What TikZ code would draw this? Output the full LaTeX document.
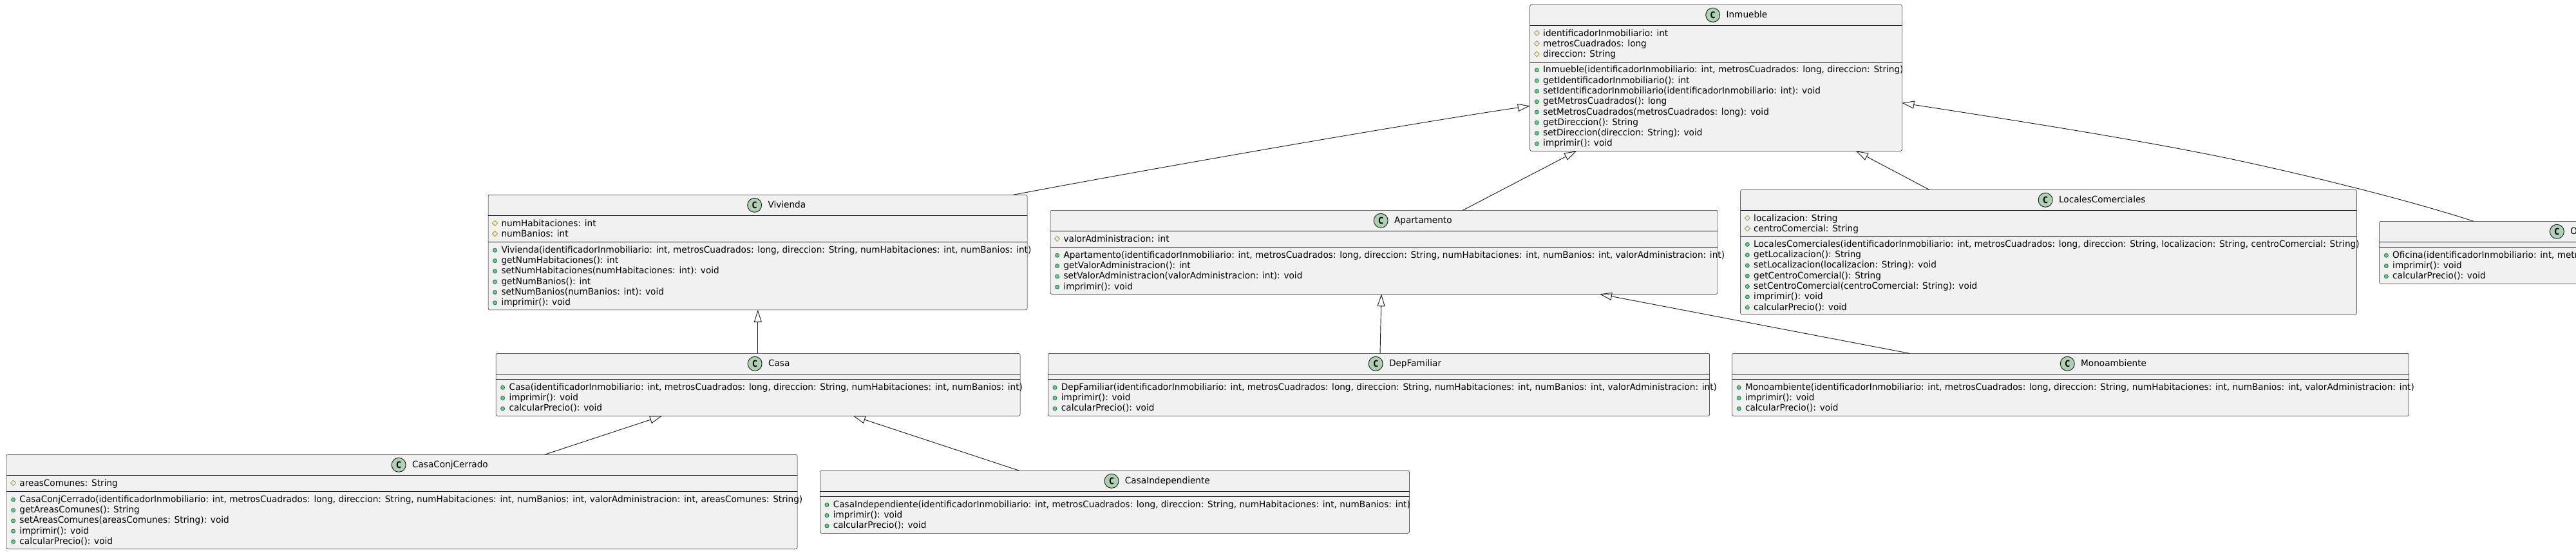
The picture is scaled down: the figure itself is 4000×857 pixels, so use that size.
\documentclass[tikz,border=0pt]{standalone}
\usepackage{fontspec}
\setmainfont[FakeStretch=0.973]{DejaVu Sans}
\newfontfamily\spotfont{DejaVu Sans Mono}
\usetikzlibrary{arrows.meta}
\definecolor{ink}{HTML}{181818}
\definecolor{boxfill}{HTML}{F1F1F1}
\definecolor{spotfill}{HTML}{ADD1B2}
\definecolor{protcol}{HTML}{B38D22}
\definecolor{pubfill}{HTML}{84BE84}
\definecolor{pubcol}{HTML}{038048}
\tikzset{
  umlbox/.style={draw=ink,line width=.5pt,fill=boxfill,rounded corners=2.5pt,anchor=north west,inner sep=0pt,outer sep=0pt},
  umlsep/.style={draw=ink,line width=.5pt},
  umlspot/.style={circle,draw=ink,line width=.9pt,fill=spotfill,minimum size=22pt,inner sep=0pt,font=\spotfont\bfseries\fontsize{14}{14}\selectfont},
  umltitle/.style={anchor=base west,inner sep=0pt,font=\fontsize{14}{16.3}\selectfont,text=black},
  umlrow/.style={anchor=base west,inner sep=0pt,font=\fontsize{14}{16.3}\selectfont,text=black},
  protmark/.style={draw=protcol,line width=.8pt},
  pubmark/.style={draw=pubcol,fill=pubfill,line width=.8pt},
  extends/.style={draw=ink,line width=.9pt,-{Triangle[open,length=19pt,width=12pt]}},
}
\newsavebox\titlebox
\newcount\rowidx
% name, left, top, right, bottom, header line, separator line, title
\newcommand\classbox[8]{%
  \pgfmathsetmacro\bw{#4-#2}\pgfmathsetmacro\bh{#5-#3}%
  \node[umlbox,minimum width=\bw pt,minimum height=\bh pt] (#1) at (#2,#3) {};
  \draw[umlsep] (#2,#6) -- (#4,#6);
  \draw[umlsep] (#2,#7) -- (#4,#7);
  \sbox\titlebox{\fontsize{14}{16.3}\selectfont #8}%
  \pgfmathsetmacro\xt{(#2+#4)/2-0.5*(\the\wd\titlebox+31.7)+31.7}%
  \pgfmathsetmacro\xi{\xt-20.7}\pgfmathsetmacro\yi{#3+16}\pgfmathsetmacro\yt{#3+20.5}%
  \node[umlspot] (#1spot) at (\xi,\yi) {C};
  \node[umltitle] (#1title) at (\xt,\yt) {#8};
  \def\rowl{#2}%
  \pgfmathsetmacro\rowy{#6+16.7}%
  \def\methy{#7}%
}
\newcommand\A[1]{%
  \global\advance\rowidx by 1
  \pgfmathsetmacro\ix{\rowl+10.6}\pgfmathsetmacro\tx{\rowl+20.3}\pgfmathsetmacro\iy{\rowy-4.7}%
  \draw[protmark] (\ix-4,\iy) -- (\ix,\iy-4) -- (\ix+4,\iy) -- (\ix,\iy+4) -- cycle;
  \node[umlrow] (row\the\rowidx) at (\tx,\rowy) {#1};
  \pgfmathsetmacro\rowy{\rowy+16.3}%
}
\newcommand\Mstart{\pgfmathsetmacro\rowy{\methy+17}}
\newcommand\M[1]{%
  \global\advance\rowidx by 1
  \pgfmathsetmacro\ix{\rowl+10.6}\pgfmathsetmacro\tx{\rowl+20.3}\pgfmathsetmacro\iy{\rowy-4}%
  \draw[pubmark] (\ix,\iy) circle (3);
  \node[umlrow] (row\the\rowidx) at (\tx,\rowy) {#1};
  \pgfmathsetmacro\rowy{\rowy+16.3}%
}
\begin{document}
\begin{tikzpicture}[x=1pt,y=-1pt]
\useasboundingbox (0,0) rectangle (4000,857);
\fill[white] (0,0) rectangle (4000,857);
\clip (0,0) rectangle (4000,857);

\classbox{Inmueble}{2375.7}{7.3}{2953.3}{234.3}{39.3}{95.8}{Inmueble}
\A{identificadorInmobiliario: int}
\A{metrosCuadrados: long}
\A{direccion: String}
\Mstart
\M{Inmueble(identificadorInmobiliario: int, metrosCuadrados: long, direccion: String)}
\M{getIdentificadorInmobiliario(): int}
\M{setIdentificadorInmobiliario(identificadorInmobiliario: int): void}
\M{getMetrosCuadrados(): long}
\M{setMetrosCuadrados(metrosCuadrados: long): void}
\M{getDireccion(): String}
\M{setDireccion(direccion: String): void}
\M{imprimir(): void}

\classbox{Vivienda}{758}{302.3}{1595}{480.8}{334.3}{375.3}{Vivienda}
\A{numHabitaciones: int}
\A{numBanios: int}
\Mstart
\M{Vivienda(identificadorInmobiliario: int, metrosCuadrados: long, direccion: String, numHabitaciones: int, numBanios: int)}
\M{getNumHabitaciones(): int}
\M{setNumHabitaciones(numHabitaciones: int): void}
\M{getNumBanios(): int}
\M{setNumBanios(numBanios: int): void}
\M{imprimir(): void}

\classbox{Casa}{770}{548.3}{1584}{645.3}{580.3}{588.3}{Casa}
\Mstart
\M{Casa(identificadorInmobiliario: int, metrosCuadrados: long, direccion: String, numHabitaciones: int, numBanios: int)}
\M{imprimir(): void}
\M{calcularPrecio(): void}

\classbox{CasaConjCerrado}{10}{705.3}{1238}{851.8}{737.3}{762.3}{CasaConjCerrado}
\A{areasComunes: String}
\Mstart
\M{CasaConjCerrado(identificadorInmobiliario: int, metrosCuadrados: long, direccion: String, numHabitaciones: int, numBanios: int, valorAdministracion: int, areasComunes: String)}
\M{getAreasComunes(): String}
\M{setAreasComunes(areasComunes: String): void}
\M{imprimir(): void}
\M{calcularPrecio(): void}

\classbox{CasaIndependiente}{1273.3}{730.3}{2188.5}{827.3}{762.3}{770.3}{CasaIndependiente}
\Mstart
\M{CasaIndependiente(identificadorInmobiliario: int, metrosCuadrados: long, direccion: String, numHabitaciones: int, numBanios: int)}
\M{imprimir(): void}
\M{calcularPrecio(): void}

\classbox{Apartamento}{1631}{326.3}{2667}{456.3}{358.3}{383.3}{Apartamento}
\A{valorAdministracion: int}
\Mstart
\M{Apartamento(identificadorInmobiliario: int, metrosCuadrados: long, direccion: String, numHabitaciones: int, numBanios: int, valorAdministracion: int)}
\M{getValorAdministracion(): int}
\M{setValorAdministracion(valorAdministracion: int): void}
\M{imprimir(): void}

\classbox{DepFamiliar}{1627.4}{548.3}{2654.7}{645.3}{580.3}{588.3}{DepFamiliar}
\Mstart
\M{DepFamiliar(identificadorInmobiliario: int, metrosCuadrados: long, direccion: String, numHabitaciones: int, numBanios: int, valorAdministracion: int)}
\M{imprimir(): void}
\M{calcularPrecio(): void}

\classbox{Monoambiente}{2689.5}{548.3}{3740.7}{645.3}{580.3}{588.3}{Monoambiente}
\Mstart
\M{Monoambiente(identificadorInmobiliario: int, metrosCuadrados: long, direccion: String, numHabitaciones: int, numBanios: int, valorAdministracion: int)}
\M{imprimir(): void}
\M{calcularPrecio(): void}

\classbox{LocalesComerciales}{2702.7}{294.3}{3659.3}{488.3}{326.3}{366.3}{LocalesComerciales}
\A{localizacion: String}
\A{centroComercial: String}
\Mstart
\M{LocalesComerciales(identificadorInmobiliario: int, metrosCuadrados: long, direccion: String, localizacion: String, centroComercial: String)}
\M{getLocalizacion(): String}
\M{setLocalizacion(localizacion: String): void}
\M{getCentroComercial(): String}
\M{setCentroComercial(centroComercial: String): void}
\M{imprimir(): void}
\M{calcularPrecio(): void}

\classbox{Oficina}{3694.7}{343.3}{4255.7}{440.3}{375.3}{383.3}{Oficina}
\Mstart
\M{Oficina(identificadorInmobiliario: int, metrosCuadrados: long, direccion: String)}
\M{imprimir(): void}
\M{calcularPrecio(): void}

% inheritance arrows
\coordinate (oficinaVia) at (3480,250);
\draw[extends] ([xshift=815.3pt]Vivienda.north west) .. controls +(226.7pt,43pt) and +(-175.7pt,-25.7pt) .. ([yshift=-157pt]Inmueble.north west);
\draw[extends] ([xshift=640.3pt]Apartamento.north west) -- ([xshift=72.3pt]Inmueble.south west);
\draw[extends] ([xshift=293pt]LocalesComerciales.north west) -- ([xshift=506.3pt]Inmueble.south west);
\draw[extends] ([xshift=146.3pt]Oficina.north west) .. controls +(-101pt,32.7pt) and +(120pt,-26pt) .. (oficinaVia) .. controls +(-140pt,30pt) and +(197pt,-30.3pt) .. ([yshift=-152.4pt]Inmueble.north east);
\draw[extends] ([xshift=406.8pt]Casa.north west) -- ([xshift=418.8pt]Vivienda.south west);
\draw[extends] ([xshift=835.8pt]CasaConjCerrado.north west) -- ([xshift=258pt]Casa.south west);
\draw[extends] ([xshift=309.7pt]CasaIndependiente.north west) -- ([xshift=554.8pt]Casa.south west);
\draw[extends] ([xshift=515.6pt]DepFamiliar.north west) -- ([xshift=514pt]Apartamento.south west);
\draw[extends] ([xshift=275.5pt]Monoambiente.north west) -- ([xshift=853pt]Apartamento.south west);
\end{tikzpicture}
\end{document}
